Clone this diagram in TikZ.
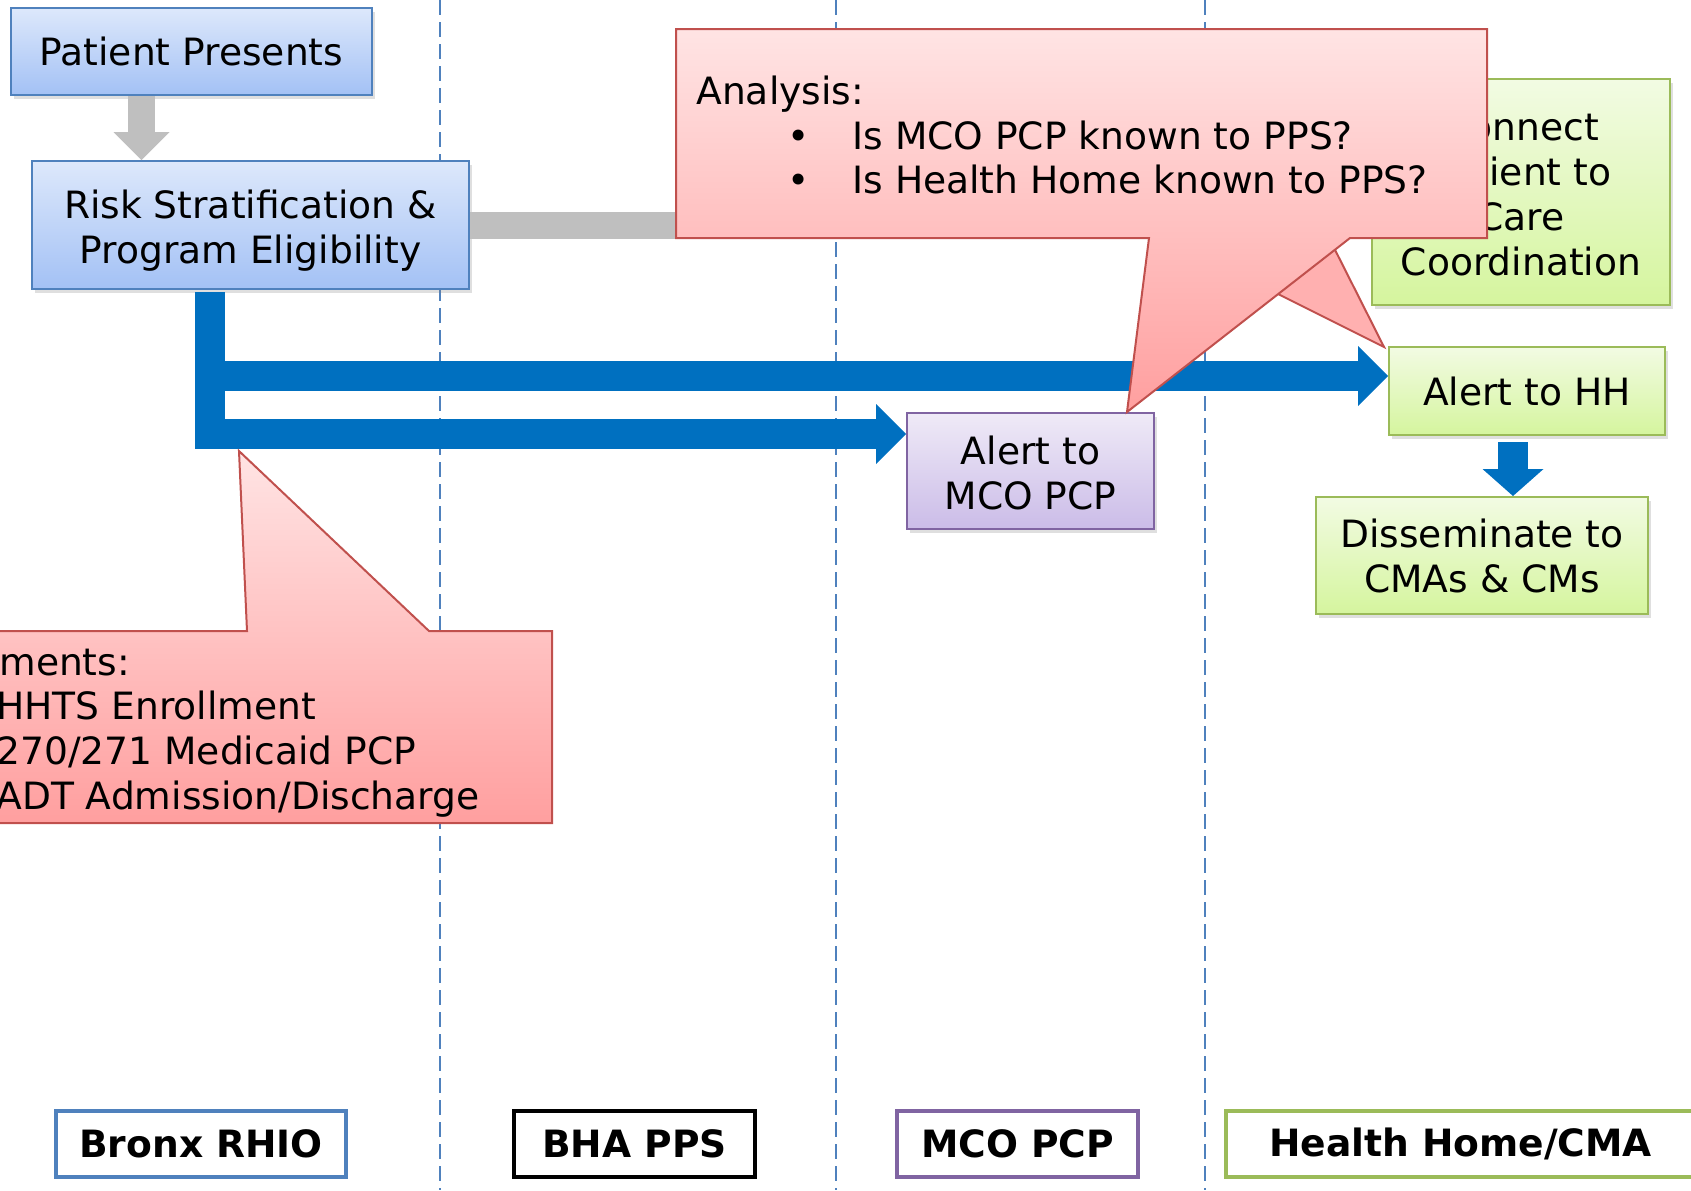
\documentclass[tikz,border=0pt]{standalone}
\usepackage{fontspec}
\setmainfont{DejaVu Sans}
\usetikzlibrary{arrows.meta,calc,shadows}

\definecolor{rhioblue}{HTML}{4F81BD}
\definecolor{rhiotop}{HTML}{DDE8FB}
\definecolor{rhiobottom}{HTML}{A3C1F5}
\definecolor{flowblue}{HTML}{0070C0}
\definecolor{flowgray}{HTML}{BFBFBF}
\definecolor{hhgreen}{HTML}{9BBB59}
\definecolor{hhtop}{HTML}{F2FBE3}
\definecolor{hhbottom}{HTML}{D5F59E}
\definecolor{mcopurple}{HTML}{8064A2}
\definecolor{mcotop}{HTML}{EFEAF7}
\definecolor{mcobottom}{HTML}{CBBCE8}
\definecolor{noteborder}{HTML}{C0504D}
\definecolor{notetop}{HTML}{FFE4E4}
\definecolor{notebottom}{HTML}{FF9F9F}
\definecolor{notemid}{HTML}{FFB0B0}

\tikzset{
    box/.style={draw, line width=1pt, align=center, inner sep=0pt,
        font=\fontsize{18.8pt}{22.5pt}\selectfont,
        drop shadow={shadow xshift=1.5pt, shadow yshift=-2pt, opacity=0.25}},
    rhiobox/.style={box, draw=rhioblue, top color=rhiotop, bottom color=rhiobottom},
    hhbox/.style={box, draw=hhgreen, top color=hhtop, bottom color=hhbottom},
    mcobox/.style={box, draw=mcopurple, top color=mcotop, bottom color=mcobottom},
    lane/.style={draw=rhioblue, line width=1pt, dash pattern=on 7.5pt off 3.5pt},
    lanelabel/.style={draw, line width=2pt, fill=white, minimum height=33pt,
        font=\fontsize{18.8pt}{22.5pt}\selectfont\bfseries},
    bluearrow/.style={draw=flowblue, line width=15pt,
        -{Triangle[width=30pt, length=15pt, line width=0pt]}},
    grayarrow/.style={draw=flowgray, line width=13.5pt,
        -{Triangle[width=28pt, length=14pt, line width=0pt]}},
    note/.style={top color=notetop, bottom color=notebottom, draw=noteborder, line width=1pt},
    notetext/.style={anchor=base west, inner sep=0pt, font=\fontsize{18.8pt}{22.5pt}\selectfont}
}

\begin{document}
\begin{tikzpicture}[x=0.5pt, y=-0.5pt]
    \useasboundingbox (0,0) rectangle (1691,1190);

    % Swim lane separators
    \draw[lane] (440,0) -- (440,1190);
    \draw[lane] (836,0) -- (836,1190);
    \draw[lane] (1205,0) -- (1205,1190);

    % Process boxes
    \node[rhiobox, minimum width=180.5pt, minimum height=43.5pt] (pp) at (191.5,51.5) {Patient Presents};
    \node[rhiobox, minimum width=218.5pt, minimum height=64pt] (risk) at (250.5,225) {\rule{0pt}{19.5pt}Risk Stratification \&\\Program Eligibility};
    \node[hhbox, minimum width=149pt, minimum height=113pt] (conn) at (1521,192) {\rule{0pt}{16.5pt}Connect\\Patient to\\Care\\Coordination};
    \node[hhbox, minimum width=138pt, minimum height=44pt] (hh) at (1527,391) {Alert to HH};
    \node[hhbox, minimum width=166pt, minimum height=58.5pt] (dis) at (1482,555.5) {Disseminate to\\CMAs \& CMs};
    \node[mcobox, minimum width=123.5pt, minimum height=58pt] (mco) at (1030.5,471) {\rule{0pt}{16.5pt}Alert to\\MCO PCP};

    % Arrow anchor points
    \coordinate (ppdrop) at ($(pp.south)+(-50,0)$);
    \coordinate (split) at ($(risk.south)+(-40.5,2)$);
    \coordinate (mcotip) at ($(mco.west)+(0,-37)$);
    \coordinate (hhtip) at ($(hh.west)+(0,-15)$);
    \coordinate (hhdrop) at ($(hh.south)+(-14,6)$);

    % Connectors
    \draw[grayarrow] (ppdrop) -- (ppdrop |- risk.north);
    \draw[draw=flowgray, line width=13.5pt] (risk.east) -- (risk.east -| conn.west);
    \draw[bluearrow] (split) |- (mcotip);
    \draw[bluearrow] (split |- hhtip) -- (hhtip);
    \draw[bluearrow, -{Triangle[width=30.5pt, length=13.5pt, line width=0pt]}] (hhdrop) -- (hhdrop |- dis.north);

    % Callout: analysis
    \filldraw[fill=notemid, draw=noteborder, line width=1pt] (1325,230) -- (1384,347) -- (1230,270) -- cycle;
    \shadedraw[note] (676,29) -- (1487,29) -- (1487,238) -- (1350,238) -- (1127,412)
        -- (1149,238) -- (676,238) -- cycle;
    \node[notetext] (an1) at (696,104) {Analysis:};
    \node[notetext] (an2) at (787,149) {\makebox[32.5pt][l]{\textbullet}Is MCO PCP known to PPS?};
    \node[notetext] (an3) at (787,193.5) {\makebox[32.5pt][l]{\textbullet}Is Health Home known to PPS?};

    % Callout: data feeds
    \shadedraw[note] (-20,631) -- (247,631) -- (239,451) -- (429,631) -- (552,631)
        -- (552,823) -- (-20,823) -- cycle;
    \node[notetext] (rq1) at (-1,675) {ments:};
    \node[notetext] (rq2) at (-4,719.5) {HHTS Enrollment};
    \node[notetext] (rq3) at (-4,764) {270/271 Medicaid PCP};
    \node[notetext] (rq4) at (-4,809.5) {ADT Admission/Discharge};

    % Lane labels
    \node[lanelabel, draw=rhioblue, minimum width=145pt] (rhio) at (201,1144) {Bronx RHIO};
    \node[lanelabel, draw=black, minimum width=120.5pt] (bha) at (634.5,1144) {BHA PPS};
    \node[lanelabel, draw=mcopurple, minimum width=120.5pt] (pcp) at (1017.5,1144) {MCO PCP};
    \node[lanelabel, draw=hhgreen, minimum width=234.5pt] (hhcma) at (1460.5,1144) {Health Home/CMA};

\end{tikzpicture}
\end{document}
